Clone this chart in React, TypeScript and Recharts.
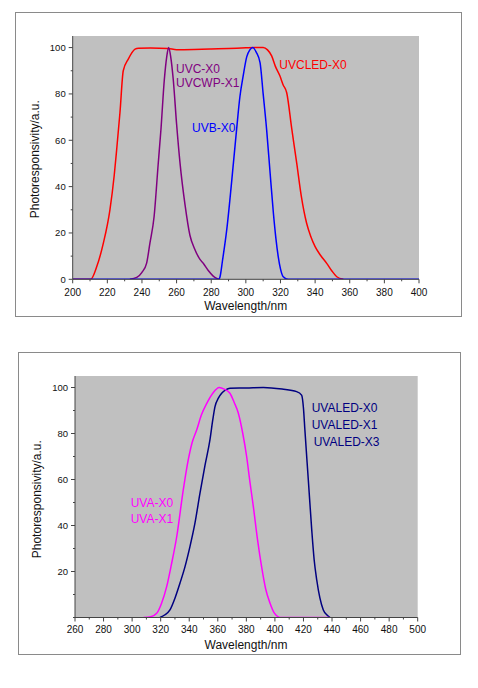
import React from "react";
import { CartesianGrid, Line, LineChart, XAxis, YAxis } from "recharts";

// [wavelength nm, photoresponsivity a.u.]
const UVCLED_X0: [number, number][] = [
  [200, 0], [210.4, 0], [213.9, 5.5], [217.7, 15.6], [221.5, 30], [224, 45], [225.4, 56],
  [227.3, 72], [229.2, 90], [232.1, 95], [236, 99.3], [238, 99.7], [245, 99.8], [255, 99.6],
  [260, 99.1], [270, 99.2], [280, 99.4], [290, 99.6], [300, 99.9], [305, 100], [310, 100],
  [312.5, 99], [314.9, 96.4], [317, 92], [319.7, 87.7], [321.5, 84], [323.6, 80.5],
  [326.5, 65], [329.4, 50], [332, 36], [335.1, 24.2], [337.5, 18.5], [340, 14.1],
  [343, 10.5], [346.7, 6.9], [349.5, 3.8], [352.5, 1.1], [356.3, 0],
];
const UVC_X0: [number, number][] = [
  [233, 0], [237, 0.8], [240, 3], [242.7, 7], [244.6, 15.6], [247, 27], [249.4, 50],
  [251, 65], [252.9, 86], [254.3, 96], [255.4, 100], [256.6, 96], [258.1, 86], [260, 67],
  [262, 50], [264.9, 32], [267.7, 19], [270.5, 13], [273.5, 8.6], [275.4, 6.9],
  [278.3, 3.8], [281, 1.5], [283.2, 0.4], [285, 0],
];
const UVB_X0: [number, number][] = [
  [200, 0], [284.5, 0], [285.1, 1.1], [286.5, 8], [288.9, 21], [292.8, 50], [294.7, 65],
  [296.6, 79], [298.5, 88], [300.5, 96], [302.3, 99], [304, 100], [306, 98], [308.2, 93.5],
  [310, 80], [312, 64.6], [314, 46], [315.9, 28.6], [317.3, 18], [318.7, 9.8], [320, 4.5],
  [321.6, 1.1], [324.5, 0], [400, 0],
];
const UVALED: [number, number][] = [
  [319.5, 0], [323, 1.2], [326.5, 3.3], [330, 8.4], [333.5, 14.9], [337, 22], [340.5, 30.8],
  [344, 41], [347.5, 54], [351, 66], [354.5, 77.2], [356.5, 86], [358, 91.6], [360.5, 95.5],
  [362.7, 97.5], [365.5, 99], [368.5, 99.7], [380, 99.8], [391.9, 100], [405, 99.3],
  [415.2, 98.2], [418.7, 96.7], [420, 91], [421, 81.5], [423.4, 59.8], [425.8, 38],
  [427.5, 25], [429.3, 16.3], [431.5, 8.5], [433.9, 3.3], [436.3, 1.2], [438.6, 0],
];
const UVA: [number, number][] = [
  [308, 0], [313, 0.3], [317.2, 1.8], [320.5, 6], [324.2, 13.4], [327.5, 23], [331.2, 35],
  [335.8, 55.4], [339.3, 68.5], [342, 76], [345.2, 81.5], [348.5, 88], [352.2, 93],
  [356.5, 97.5], [361, 100], [364.5, 99.3], [368.5, 97.5], [371.5, 93.5], [374.4, 88.8],
  [377.5, 80], [380.2, 70], [382.5, 59], [384.9, 48.2], [387.8, 34], [390.7, 22],
  [393.5, 12.5], [396.6, 6.2], [399.5, 2], [402.4, 0.3], [404, 0], [438, 0],
];

const TOP_X_TICKS = [200, 210, 220, 230, 240, 250, 260, 270, 280, 290, 300, 310, 320, 330, 340, 350, 360, 370, 380, 390, 400];
const TOP_X_LABELS = [200, 220, 240, 260, 280, 300, 320, 340, 360, 380, 400];
const BOTTOM_X_TICKS = [260, 270, 280, 290, 300, 310, 320, 330, 340, 350, 360, 370, 380, 390, 400, 410, 420, 430, 440, 450, 460, 470, 480, 490, 500];
const BOTTOM_X_LABELS = [260, 280, 300, 320, 340, 360, 380, 400, 420, 440, 460, 480, 500];
const Y_TICKS = [0, 10, 20, 30, 40, 50, 60, 70, 80, 90, 100];
const TOP_Y_LABELS = [0, 20, 40, 60, 80, 100];
const BOTTOM_Y_LABELS = [20, 40, 60, 80, 100];

const FONT = "'Liberation Sans', Arial, sans-serif";
const AXIS = "#444";

const toRows = (pts: [number, number][]) => pts.map(([x, y]) => ({ x, y }));

function makeXTick(labels: number[], gap: number) {
  return (props: any) => {
    const { x, y, payload } = props;
    const major = labels.includes(payload.value);
    return (
      <g>
        <line x1={x} x2={x} y1={y} y2={y + (major ? 4 : 2)} stroke={AXIS} />
        {major && (
          <text x={x} y={y + gap} dy="0.71em" textAnchor="middle" fontSize={10} fontFamily={FONT} fill="#111">
            {payload.value}
          </text>
        )}
      </g>
    );
  };
}

function makeYTick(labels: number[]) {
  return (props: any) => {
    const { x, y, payload } = props;
    const major = labels.includes(payload.value);
    return (
      <g>
        <line x1={x - (major ? 4 : 2)} x2={x} y1={y} y2={y} stroke={AXIS} />
        {major && (
          <text x={x - 7} y={y} dy="0.355em" textAnchor="end" fontSize={9.5} fontFamily={FONT} fill="#111">
            {payload.value}
          </text>
        )}
      </g>
    );
  };
}

function SpectrumChart({
  top,
  height,
  margin,
  xDomain,
  xTicks,
  xLabels,
  yLabels,
  gap,
  children,
}: {
  top: number;
  height: number;
  margin: { top: number; right: number; bottom: number; left: number };
  xDomain: [number, number];
  xTicks: number[];
  xLabels: number[];
  yLabels: number[];
  gap: number;
  children: React.ReactNode;
}) {
  return (
    <div style={{ position: "absolute", left: 0, top, width: 478, height }}>
      <LineChart width={478} height={height} margin={margin}>
        <CartesianGrid fill="#c0c0c0" fillOpacity={1} stroke="none" horizontal={false} vertical={false} />
        <XAxis
          type="number"
          dataKey="x"
          domain={xDomain}
          ticks={xTicks}
          interval={0}
          allowDataOverflow
          height={30}
          tickSize={0}
          tickMargin={0}
          tickLine={false}
          axisLine={{ stroke: AXIS }}
          tick={makeXTick(xLabels, gap)}
        />
        <YAxis
          type="number"
          dataKey="y"
          domain={[0, 105]}
          ticks={Y_TICKS}
          interval={0}
          allowDataOverflow
          width={40}
          tickSize={0}
          tickMargin={0}
          tickLine={false}
          axisLine={{ stroke: AXIS }}
          tick={makeYTick(yLabels)}
        />
        {children}
      </LineChart>
    </div>
  );
}

const txt = { fontFamily: FONT, fontSize: 12 };

export default function App() {
  return (
    <div style={{ position: "absolute", left: 0, top: 0, width: 478, height: 688, background: "#fff" }}>
      <div style={{ position: "absolute", left: 15, top: 12, width: 447, height: 305, border: "1px solid #8a8a8a", boxSizing: "border-box" }} />
      <div style={{ position: "absolute", left: 18, top: 352, width: 443, height: 303, border: "1px solid #8a8a8a", boxSizing: "border-box" }} />

      <SpectrumChart
        top={0}
        height={330}
        margin={{ top: 36, right: 59, bottom: 20.7, left: 32.7 }}
        xDomain={[200, 400]}
        xTicks={TOP_X_TICKS}
        xLabels={TOP_X_LABELS}
        yLabels={TOP_Y_LABELS}
        gap={10}
      >
        <Line data={toRows(UVCLED_X0)} dataKey="y" type="monotone" stroke="#ff0000" strokeWidth={1.5} dot={false} isAnimationActive={false} />
        <Line data={toRows(UVC_X0)} dataKey="y" type="monotone" stroke="#800080" strokeWidth={1.5} dot={false} isAnimationActive={false} />
        <Line data={toRows(UVB_X0)} dataKey="y" type="monotone" stroke="#0000ff" strokeWidth={1.5} dot={false} isAnimationActive={false} />
      </SpectrumChart>

      <SpectrumChart
        top={340}
        height={348}
        margin={{ top: 36, right: 60.3, bottom: 40.5, left: 35 }}
        xDomain={[260, 500]}
        xTicks={BOTTOM_X_TICKS}
        xLabels={BOTTOM_X_LABELS}
        yLabels={BOTTOM_Y_LABELS}
        gap={8.5}
      >
        <Line data={toRows(UVALED)} dataKey="y" type="monotone" stroke="#000080" strokeWidth={1.5} dot={false} isAnimationActive={false} />
        <Line data={toRows(UVA)} dataKey="y" type="monotone" stroke="#ff00ff" strokeWidth={1.5} dot={false} isAnimationActive={false} />
      </SpectrumChart>

      <svg width={478} height={688} style={{ position: "absolute", left: 0, top: 0, pointerEvents: "none" }}>
        <text x={279.3} y={68.5} fill="#ff0000" {...txt}>UVCLED-X0</text>
        <text x={176} y={73} fill="#800080" {...txt}>UVC-X0</text>
        <text x={176} y={86.6} fill="#800080" {...txt}>UVCWP-X1</text>
        <text x={192} y={131.7} fill="#0000ff" {...txt}>UVB-X0</text>
        <text x={245.7} y={310.3} textAnchor="middle" fill="#111" {...txt}>Wavelength/nm</text>
        <text x={38.6} y={159.2} textAnchor="middle" fill="#111" transform="rotate(-90 38.6 159.2)" {...txt}>Photoresponsivity/a.u.</text>

        <text x={311.7} y={412} fill="#000080" {...txt}>UVALED-X0</text>
        <text x={311.7} y={429.3} fill="#000080" {...txt}>UVALED-X1</text>
        <text x={313.7} y={446} fill="#000080" {...txt}>UVALED-X3</text>
        <text x={130.7} y={507} fill="#ff00ff" {...txt}>UVA-X0</text>
        <text x={130.7} y={523} fill="#ff00ff" {...txt}>UVA-X1</text>
        <text x={246} y={649} textAnchor="middle" fill="#111" {...txt}>Wavelength/nm</text>
        <text x={41} y={499.2} textAnchor="middle" fill="#111" transform="rotate(-90 41 499.2)" {...txt}>Photoresponsivity/a.u.</text>
      </svg>
    </div>
  );
}
